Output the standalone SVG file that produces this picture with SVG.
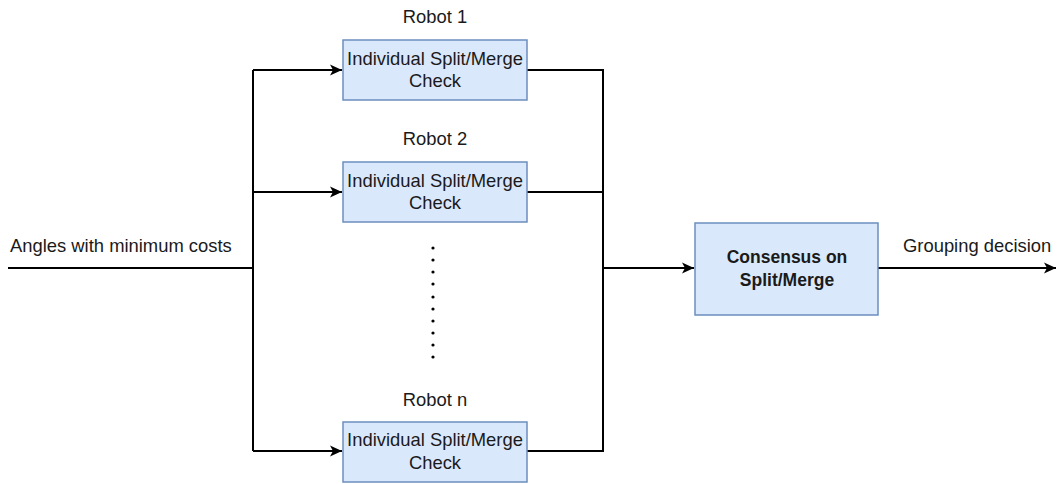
<svg xmlns="http://www.w3.org/2000/svg" width="1057" height="484" viewBox="0 0 1057 484">
<style>
.box{fill:#dae8fc;stroke:#6c8ebf;stroke-width:1.5}
.t{font-family:"Liberation Sans",Arial,sans-serif;font-size:18.4px;fill:#1a1a1a;text-anchor:middle}
.tl{font-family:"Liberation Sans",Arial,sans-serif;font-size:18.4px;fill:#1a1a1a}
.b{font-weight:bold;font-size:17.5px}
.ln{fill:none;stroke:#000;stroke-width:2}
</style>
<defs>
<marker id="ah" markerWidth="14" markerHeight="12" refX="12" refY="6" orient="auto" markerUnits="userSpaceOnUse">
<path d="M0,0.5 L12,6 L0,11.5 L3,6 Z" fill="#000"/>
</marker>
</defs>
<g id="connectors">
<path class="ln" d="M8,268 H253"/>
<path class="ln" d="M253,70 V451"/>
<path class="ln" d="M253,70 H342" marker-end="url(#ah)"/>
<path class="ln" d="M253,192 H342" marker-end="url(#ah)"/>
<path class="ln" d="M253,451 H342" marker-end="url(#ah)"/>
<path class="ln" d="M527,70 H603 V451 H527"/>
<path class="ln" d="M527,192 H603"/>
<path class="ln" d="M603,268 H694" marker-end="url(#ah)"/>
<path class="ln" d="M878,268 H1056" marker-end="url(#ah)"/>
</g>
<g id="input-label"><text class="tl" x="10" y="252">Angles with minimum costs</text></g>
<g id="robot1">
<text class="t" x="435" y="23">Robot 1</text>
<rect class="box" x="343" y="40" width="184" height="60"/>
<text class="t" x="435" y="65">Individual Split/Merge</text>
<text class="t" x="435" y="87">Check</text>
</g>
<g id="robot2">
<text class="t" x="435" y="145">Robot 2</text>
<rect class="box" x="343" y="162" width="184" height="60"/>
<text class="t" x="435" y="187">Individual Split/Merge</text>
<text class="t" x="435" y="209">Check</text>
</g>
<g id="dots" fill="#000">
<circle cx="433" cy="248" r="1.6"/><circle cx="433" cy="260" r="1.6"/><circle cx="433" cy="272" r="1.6"/><circle cx="433" cy="284" r="1.6"/><circle cx="433" cy="297" r="1.6"/><circle cx="433" cy="309" r="1.6"/><circle cx="433" cy="321" r="1.6"/><circle cx="433" cy="333" r="1.6"/><circle cx="433" cy="345" r="1.6"/><circle cx="433" cy="357" r="1.6"/>
</g>
<g id="robotn">
<text class="t" x="435" y="406">Robot n</text>
<rect class="box" x="343" y="422" width="184" height="60"/>
<text class="t" x="435" y="446">Individual Split/Merge</text>
<text class="t" x="435" y="469">Check</text>
</g>
<g id="consensus">
<rect class="box" x="695" y="223" width="183" height="92"/>
<text class="t b" x="787" y="263">Consensus on</text>
<text class="t b" x="787" y="286">Split/Merge</text>
</g>
<g id="output-label"><text class="tl" x="903" y="252">Grouping decision</text></g>
</svg>
